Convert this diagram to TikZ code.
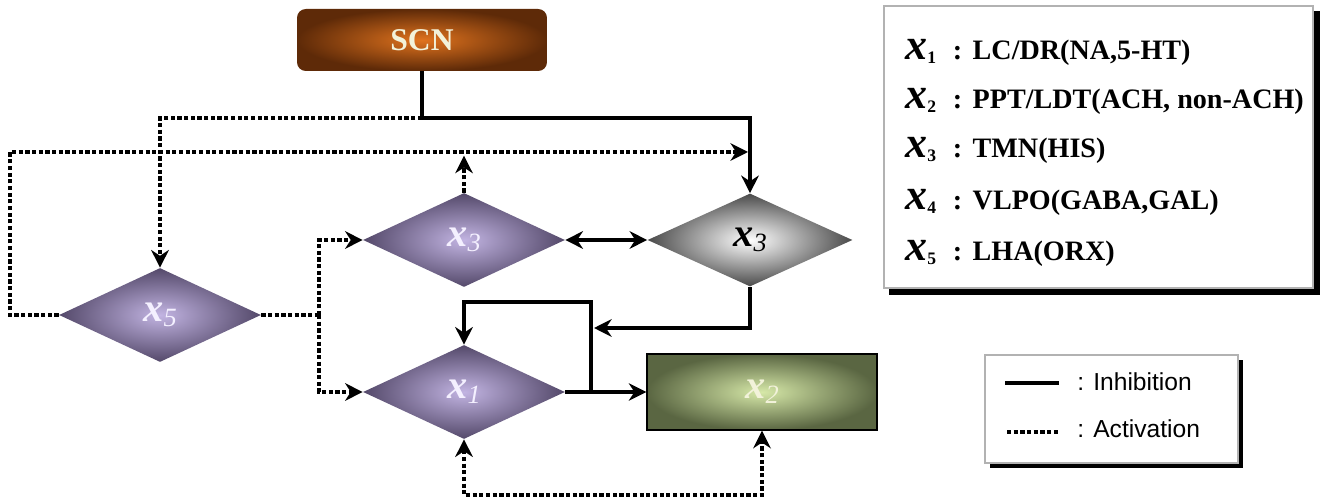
\documentclass[tikz,border=0pt]{standalone}
\usepackage{fontspec}
\setmainfont{Liberation Serif}
\newfontfamily\legsans{Liberation Sans}
\usetikzlibrary{shapes.geometric,arrows.meta}
\definecolor{purpC}{HTML}{C2B4E2}
\definecolor{purpE}{HTML}{54496A}
\definecolor{greyE}{HTML}{4A4A4A}
\definecolor{olivC}{HTML}{D6E8A8}
\definecolor{olivE}{HTML}{5A6642}
\definecolor{scnC}{HTML}{E0731E}
\definecolor{scnE}{HTML}{5E2A08}
\definecolor{labW}{HTML}{F4F0FF}
\definecolor{labC}{HTML}{F2F2DA}
\newcommand\dlab[1]{{\fontsize{23}{23}\selectfont\bfseries\itshape x}\raisebox{-0.6ex}{\fontsize{15}{15}\selectfont\itshape #1}}
\newcommand\legrow[2]{\rlap{{\fontsize{25}{25}\selectfont\bfseries\itshape x}\raisebox{-0.3ex}{\fontsize{10}{10}\selectfont\bfseries #1}}\hspace{27pt}\textbf{:}\hspace{6pt}\textbf{#2}}
\begin{document}
\begin{tikzpicture}[x=0.02cm,y=-0.02cm,
  inh/.style={line width=2.4pt},
  act/.style={line width=2.3pt,dash pattern=on 2.4pt off 1.4pt},
  tip/.style={-{Stealth[length=10pt,width=10pt]}},
  bitip/.style={{Stealth[length=10pt,width=10pt]}-{Stealth[length=10pt,width=10pt]}},
  pdia/.style={diamond,minimum width=4.04cm,minimum height=1.88cm,inner sep=0pt,
    shading=radial,inner color=purpC,outer color=purpE,text=labW},
  gdia/.style={diamond,minimum width=4.1cm,minimum height=1.86cm,inner sep=0pt,
    shading=radial,inner color=white,outer color=greyE,text=black},
  obox/.style={rectangle,draw=black,line width=0.8pt,minimum width=4.6cm,minimum height=1.52cm,
    inner sep=0pt,shading=radial,inner color=olivC,outer color=olivE,text=labC},
  scnbox/.style={rectangle,rounded corners=5pt,minimum width=5cm,minimum height=1.24cm,
    shading=radial,inner color=scnC,outer color=scnE,text=labC,
    font=\fontsize{18}{18}\selectfont\bfseries},
  leg/.style={anchor=base west,inner sep=0pt,font=\fontsize{16}{16}\selectfont},
  leg2/.style={anchor=west,inner sep=0pt,font=\legsans\fontsize{14}{14}\selectfont}
]
\useasboundingbox (0,0) rectangle (1327,499);

% nodes
\node[scnbox] (scn) at (422,40) {SCN};
\node[pdia] (x5) at (160,315) {\dlab{5}};
\node[pdia] (lx3) at (464,240) {\dlab{3}};
\node[gdia] (gx3) at (750,240) {\dlab{3}};
\node[pdia] (x1) at (464,392) {\dlab{1}};
\node[obox] (x2) at (762,392) {\dlab{2}};

% helper coordinates
\coordinate (j1) at (422,118);
\coordinate (c2) at (10,152);
\coordinate (e2) at (748,152);
\coordinate (c3) at (319,315);
\coordinate (c4) at (594,328);
\coordinate (c5) at (591,302);
\coordinate (c6) at (464,495);

% inhibition (solid)
\draw[inh,tip] (scn.south) -- (j1) -| (gx3.north);
\draw[inh,bitip] (lx3.east) -- (gx3.west);
\draw[inh,tip] (gx3.south) |- (c4);
\draw[inh,tip] (x1.east) -| (c5) -| (x1.north);
\draw[inh,tip] (x1.east) -- (x2.west);

% activation (dotted)
\draw[act,tip] (j1) -| (x5.north);
\draw[act,tip] (x5.west) -| (c2) -- (e2);
\draw[act,tip] (lx3.north) -- ++(0,-37);
\draw[act] (x5.east) -- (c3);
\draw[act,tip] (c3) |- (lx3.west);
\draw[act,tip] (c3) |- (x1.west);
\draw[act,bitip] (x1.south) -- (c6) -| (x2.south);

% legend 1
\fill[black] (889,11) rectangle (1320,295);
\draw[gray!60,line width=0.6pt,fill=white] (884,6) rectangle (1313,288);
\node[leg] (l1) at (905,60) {\legrow{1}{LC/DR(NA,5-HT)}};
\node[leg] (l2) at (905,109) {\legrow{2}{PPT/LDT(ACH, non-ACH)}};
\node[leg] (l3) at (905,158) {\legrow{3}{TMN(HIS)}};
\node[leg] (l4) at (905,210) {\legrow{4}{VLPO(GABA,GAL)}};
\node[leg] (l5) at (905,261) {\legrow{5}{LHA(ORX)}};

% legend 2
\fill[black] (990,360) rectangle (1243,468);
\draw[gray!60,line width=0.6pt,fill=white] (985,355) rectangle (1238,463);
\coordinate (s1) at (1005,383); \coordinate (s2) at (1059,383);
\coordinate (d1) at (1007,432); \coordinate (d2) at (1058,432);
\draw[inh] (s1) -- (s2);
\draw[act] (d1) -- (d2);
\node[leg2] (t1) at (1077,382) {: Inhibition};
\node[leg2] (t2) at (1077,429) {: Activation};
\end{tikzpicture}
\end{document}
